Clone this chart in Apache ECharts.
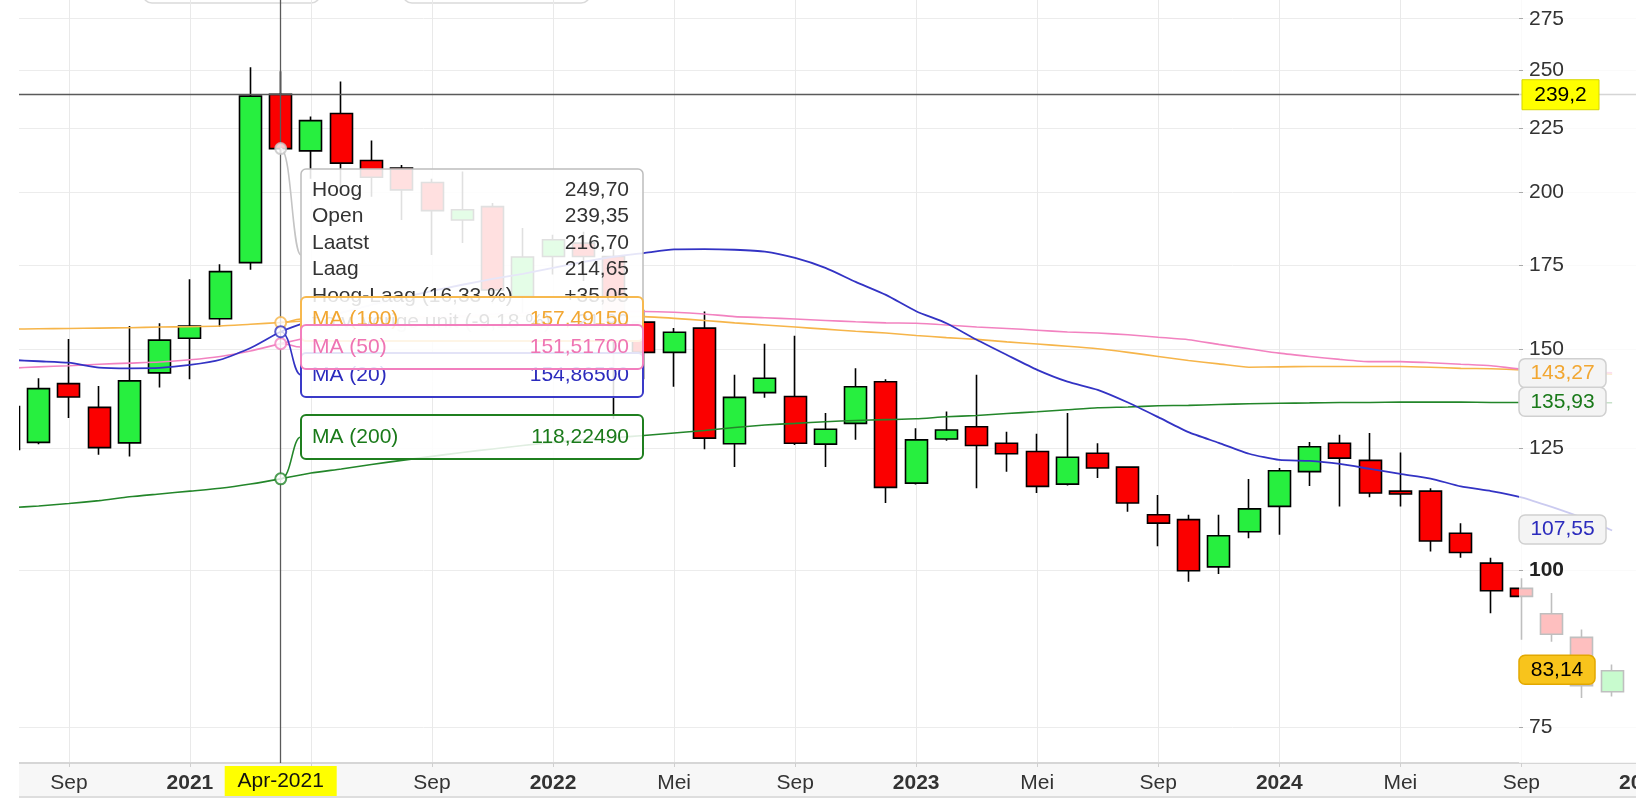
<!DOCTYPE html>
<html><head><meta charset="utf-8">
<script src="https://cdn.jsdelivr.net/npm/echarts@6/dist/echarts.min.js"></script>
<style>html,body{margin:0;padding:0;background:#fff;overflow:hidden}#c{width:1636px;height:804px}</style>
</head><body><div id="c"></div>
<script>
// ---------- data (monthly candles) ----------
const months = ['2020-07','2020-08','2020-09','2020-10','2020-11','2020-12','2021-01','2021-02','2021-03','2021-04','2021-05','2021-06','2021-07','2021-08','2021-09','2021-10','2021-11','2021-12','2022-01','2022-02','2022-03','2022-04','2022-05','2022-06','2022-07','2022-08','2022-09','2022-10','2022-11','2022-12','2023-01','2023-02','2023-03','2023-04','2023-05','2023-06','2023-07','2023-08','2023-09','2023-10','2023-11','2023-12','2024-01','2024-02','2024-03','2024-04','2024-05','2024-06','2024-07','2024-08','2024-09','2024-10','2024-11','2024-12'];
const open  = [135.0,126.4,140.8,134.8,126.3,143.6,153.0,158.6,175.8,239.35,215.8,231.1,212.0,209.1,203.6,190.1,194.8,165.2,177.8,182.2,177.8,157.6,149.1,155.9,126.1,138.5,137.5,126.0,130.9,141.3,117.3,127.2,130.1,126.2,124.3,117.1,123.9,120.8,110.7,109.7,100.6,107.3,112.4,119.8,126.2,122.3,115.6,115.6,107.0,101.3,96.7,92.3,88.4,80.0];
const close = [124.8,139.5,137.4,125.2,141.5,152.5,156.5,172.9,238.6,216.70,228.1,211.0,205.6,200.9,193.4,193.7,167.2,177.6,183.3,177.8,157.8,149.1,154.7,127.4,137.3,142.2,126.2,129.5,140.0,116.4,127.0,129.3,125.7,123.8,116.6,123.0,120.6,113.1,109.0,99.9,106.5,111.9,120.0,125.4,122.8,115.2,115.0,105.5,103.3,96.3,95.3,88.9,80.9,83.14];
const low   = [122.0,126.0,132.2,123.6,123.2,139.8,141.9,156.3,173.5,214.65,205.0,200.0,198.4,190.1,178.3,182.2,163.0,160.0,172.0,170.0,132.0,141.9,140.0,124.8,120.8,137.2,125.8,120.8,127.0,113.1,117.0,126.8,116.2,119.8,115.2,116.8,118.4,111.3,104.5,97.9,99.3,106.0,106.7,116.7,112.4,114.3,112.4,103.5,102.3,92.4,88.0,87.7,79.1,79.3];
const high  = [137.0,142.2,152.8,140.2,156.5,157.3,170.5,175.3,251.6,249.70,229.8,245.1,219.9,210.3,205.0,207.8,196.1,187.3,185.0,186.0,180.0,161.2,155.9,160.7,143.1,151.5,153.7,133.4,144.8,141.9,129.7,133.8,143.1,128.9,128.4,133.4,126.2,121.0,114.8,110.7,110.7,118.2,120.6,126.5,128.2,128.6,124.1,116.2,109.0,102.3,98.5,95.9,89.7,84.1];
const ma20  = [147.1,146.7,146.3,145.0,144.8,144.9,145.7,147.1,150.3,154.865,158.0,160.3,162.7,164.8,166.9,168.8,170.6,172.2,174.1,176.0,177.7,178.9,180.1,180.2,180.0,179.4,177.3,174.1,169.7,165.7,160.8,157.3,152.6,148.4,144.4,141.3,139.2,136.0,132.4,128.8,126.3,123.8,122.4,122.2,121.5,120.4,119.3,118.3,116.6,115.6,114.3,112.3,110.1,107.55];
const ma50  = [144.8,145.2,145.5,145.9,146.2,146.5,147.1,148.0,149.5,151.517,153.4,155.4,156.8,158.0,158.9,159.4,159.9,160.2,160.5,160.6,160.7,160.7,160.5,160.0,159.2,158.9,158.5,158.1,157.7,157.4,157.3,156.8,156.2,155.8,155.3,154.8,154.5,154.0,153.3,152.6,151.3,150.1,148.9,148.0,147.2,146.6,146.6,146.3,145.9,145.5,144.6,144.3,143.9,143.6];
const ma100 = [155.6,155.7,155.8,155.9,156.0,156.2,156.3,156.5,157.0,157.4915,158.1,158.6,158.9,159.0,159.1,159.2,159.2,159.3,159.3,159.3,159.3,159.2,158.7,158.1,157.4,156.8,156.2,155.6,155.0,154.5,153.8,153.2,152.7,152.0,151.4,150.8,150.1,149.1,148.0,146.9,146.0,145.1,145.2,145.3,145.3,145.3,145.3,145.1,144.8,144.7,144.4,144.0,143.6,143.27];
const ma200 = [112.1,112.5,113.0,113.6,114.4,115.0,115.6,116.2,117.1,118.2249,119.5,120.4,121.4,122.3,123.2,124.1,124.9,125.7,126.4,127.0,127.5,128.0,128.6,129.2,129.9,130.5,130.9,131.3,131.6,131.8,132.0,132.5,132.8,133.3,133.7,134.2,134.7,134.9,135.2,135.3,135.5,135.7,135.8,135.9,136.0,136.0,136.1,136.1,136.1,136.0,136.0,136.0,135.95,135.93];
const tickMonths = ['2020-09','2021-01','2021-05','2021-09','2022-01','2022-05','2022-09','2023-01','2023-05','2023-09','2024-01','2024-05','2024-09','2025-01'];
const tickLabels = ['Sep','2021','Mei','Sep','2022','Mei','Sep','2023','Mei','Sep','2024','Mei','Sep','2025'];
const yTicks = [75,100,125,150,175,200,225,250,275];
const crossMonth = '2021-04';
const crossPrice = 239.2;
const monthNames = ['Jan','Feb','Mrt','Apr','Mei','Jun','Jul','Aug','Sep','Okt','Nov','Dec'];

// ---------- helpers ----------
const FONT = '"Liberation Sans", Arial, Helvetica, sans-serif';
function monthIndex(s){const p=s.split('-').map(Number);return (p[0]-2020)*12+(p[1]-7);}
const fmt=(v,d)=>v.toFixed(d).replace('.',',');
const xs = months.map(monthIndex);
const tickX = tickMonths.map(monthIndex);
const ci = months.indexOf(crossMonth);
const COL = {up:'#27ef3f',down:'#fb0000',ma20:'#3333c4',ma50:'#f282c0',ma100:'#f6b54a',ma200:'#23862a',price:'#c4c4c4'};
const line=(arr)=>xs.map((x,i)=>[x,arr[i]]);

const chart = echarts.init(document.getElementById('c'), null, {renderer:'canvas'});
const yBase = {type:'log', min:70.2, max:284.6, position:'right', offset:-137};
const option = {
  animation:false,
  grid:{left:19,right:-20,top:0,bottom:41,containLabel:false,outerBoundsMode:'none'},
  xAxis:{type:'value',min:0.351,max:54.45,z:1,
    axisLine:{show:true,onZero:false,lineStyle:{color:'#d6d6d6',width:2}},
    axisTick:{show:true,length:4,customValues:tickX,lineStyle:{color:'#cfcfcf'}},
    axisLabel:{customValues:tickX,margin:10,fontSize:21,color:'#333',fontFamily:FONT,
      formatter:(v)=>{const t=tickLabels[tickX.indexOf(Math.round(v))]||'';return /^\d{4}$/.test(t)?'{y|'+t+'}':t;},
      rich:{y:{fontSize:21,fontWeight:'bold',color:'#333',fontFamily:FONT}}},
    splitLine:{show:true,lineStyle:{color:'#e9e9e9',width:1}}},
  yAxis:[
    Object.assign({},yBase,{z:1,axisLine:{show:false},axisTick:{show:false,customValues:yTicks},
      axisLabel:{show:false,customValues:yTicks},splitLine:{show:true,lineStyle:{color:'#ececec',width:1}}}),
    Object.assign({},yBase,{z:10,axisLine:{show:false},axisTick:{show:true,length:4,customValues:yTicks,lineStyle:{color:'#aaa'}},
      axisLabel:{customValues:yTicks,margin:10,fontSize:21,color:'#333',fontFamily:FONT,
        formatter:(v)=>Math.round(v)===100?'{b|100}':String(Math.round(v)),
        rich:{b:{fontSize:21,fontWeight:'bold',color:'#222',fontFamily:FONT}}},
      splitLine:{show:false}})
  ],
  series:[
    {type:'candlestick',name:'Koers',z:2,barWidth:22.5,silent:true,
      data:xs.map((x,i)=>[x,open[i],close[i],low[i],high[i]]),
      itemStyle:{color:COL.up,color0:COL.down,borderColor:'#000',borderColor0:'#000',borderWidth:1.6},
      markLine:{silent:true,symbol:['none','none'],animation:false,label:{show:false},
        lineStyle:{color:'#5a5a5a',width:1.3,type:'solid'},emphasis:{disabled:true},
        data:[{xAxis:xs[ci]},{yAxis:crossPrice}]}},
    {type:'line',name:'MA (200)',z:3,showSymbol:false,smooth:0.2,silent:true,data:line(ma200),lineStyle:{color:COL.ma200,width:1.6}},
    {type:'line',name:'MA (100)',z:3,showSymbol:false,smooth:0.2,silent:true,data:line(ma100),lineStyle:{color:COL.ma100,width:1.6}},
    {type:'line',name:'MA (50)',z:3,showSymbol:false,smooth:0.2,silent:true,data:line(ma50),lineStyle:{color:COL.ma50,width:1.6}},
    {type:'line',name:'MA (20)',z:3,showSymbol:false,smooth:0.2,silent:true,data:line(ma20),lineStyle:{color:COL.ma20,width:1.8}},
    {type:'scatter',name:'dots',z:8,silent:true,symbolSize:11,
      itemStyle:{color:'#fff',borderWidth:2},
      data:[
        {value:[xs[ci],close[ci]],itemStyle:{borderColor:COL.price}},
        {value:[xs[ci],ma100[ci]],itemStyle:{borderColor:COL.ma100}},
        {value:[xs[ci],ma50[ci]],itemStyle:{borderColor:COL.ma50}},
        {value:[xs[ci],ma20[ci]],itemStyle:{borderColor:COL.ma20}},
        {value:[xs[ci],ma200[ci]],itemStyle:{borderColor:COL.ma200}}
      ]}
  ]
};
chart.setOption(option);

// ---------- overlays: tooltip, labels ----------
const P=(x,y)=>chart.convertToPixel({xAxisIndex:0,yAxisIndex:0},[x,y]);
const g=[];
const T=(x,y,text,fill,align,z,z2,weight)=>({type:'text',x:x,y:y,z:z,z2:z2,silent:true,
  style:{text:text,fill:fill,font:(weight||'normal')+' 21px '+FONT,align:align,verticalAlign:'middle'}});
// clip the part of the first candle left of the plot
g.push({type:'rect',z:4,silent:true,shape:{x:-10,y:0,width:29,height:804},style:{fill:'#fff'}});
// toolbar remnants at top
g.push({type:'rect',z:0,silent:true,shape:{x:143,y:-30,width:177,height:33,r:9},style:{fill:'none',stroke:'#dadada',lineWidth:1.5}});
g.push({type:'rect',z:0,silent:true,shape:{x:403,y:-30,width:187,height:33,r:9},style:{fill:'none',stroke:'#dadada',lineWidth:1.5}});
// x-axis band
g.push({type:'rect',z:0,silent:true,shape:{x:19,y:764,width:1617,height:33},style:{fill:'#f7f7f7'}});
g.push({type:'rect',z:0,silent:true,shape:{x:19,y:796,width:1617,height:2},style:{fill:'#dedede'}});
// y label area veil
g.push({type:'rect',z:6,silent:true,shape:{x:1519,y:0,width:117,height:763},style:{fill:'rgba(255,255,255,0.75)'}});

// tooltip box
const BX=301, BW=342, TX=312, VX=629;
g.push({type:'rect',z:6,z2:0,silent:true,shape:{x:BX,y:169,width:BW,height:172,r:5},style:{fill:'rgba(255,255,255,0.88)',stroke:'#bdbdbd',lineWidth:1.5}});
const prevClose = close[ci-1];
const rows=[
  ['Hoog',fmt(high[ci],2)],
  ['Open',fmt(open[ci],2)],
  ['Laatst',fmt(close[ci],2)],
  ['Laag',fmt(low[ci],2)],
  ['Hoog-Laag ('+fmt((high[ci]-low[ci])/low[ci]*100,2)+' %)','+'+fmt(high[ci]-low[ci],2)],
  ['t.o.v. vorige unit ('+fmt((close[ci]-prevClose)/prevClose*100,2)+' %)',fmt(close[ci]-prevClose,2)]
];
rows.forEach((r,k)=>{const y=190+k*26.5;g.push(T(TX,y,r[0],'#333','left',6,1));g.push(T(VX,y,r[1],'#333','right',6,1));});

const maBoxes=[
  {name:'MA (20)',v:ma20[ci],top:353,stroke:'#3a3ac8',text:'#2b2bbd',z2:2},
  {name:'MA (100)',v:ma100[ci],top:297,stroke:'#f7b94f',text:'#f2a732',z2:4},
  {name:'MA (50)',v:ma50[ci],top:325,stroke:'#f27fbe',text:'#ef74b3',z2:6},
  {name:'MA (200)',v:ma200[ci],top:415,stroke:'#1f7f1f',text:'#1a7a1a',z2:8}
];
maBoxes.forEach(b=>{
  g.push({type:'rect',z:6,z2:b.z2,silent:true,shape:{x:BX,y:b.top,width:BW,height:44,r:5},style:{fill:'rgba(255,255,255,0.86)',stroke:b.stroke,lineWidth:2}});
  g.push(T(TX,b.top+22,b.name,b.text,'left',6,b.z2+1));
  g.push(T(VX,b.top+22,fmt(b.v,5),b.text,'right',6,b.z2+1));
});

// connectors from dots to boxes
const conns=[[close[ci],255,COL.price],[ma100[ci],319,COL.ma100],[ma50[ci],347,COL.ma50],[ma20[ci],375,COL.ma20],[ma200[ci],437,COL.ma200]];
conns.forEach(c=>{
  const p=P(xs[ci],c[0]);
  g.push({type:'bezierCurve',z:7,silent:true,shape:{x1:p[0],y1:p[1],x2:BX,y2:c[1],cpx1:p[0]+11,cpy1:p[1],cpx2:BX-9,cpy2:c[1]},
    style:{stroke:c[2],lineWidth:1.6,fill:'none'}});
});

// crosshair labels
const cp=P(xs[ci],crossPrice);
g.push({type:'rect',z:11,silent:true,shape:{x:1522,y:cp[1]-15,width:77,height:30},style:{fill:'#ffff00',stroke:'#d6d600',lineWidth:1}});
g.push(T(1560.5,cp[1],fmt(crossPrice,1),'#000','center',11,1));
const cmParts=crossMonth.split('-');
g.push({type:'rect',z:11,silent:true,shape:{x:cp[0]-56,y:766,width:112,height:30},style:{fill:'#ffff00'}});
g.push(T(cp[0],781,monthNames[+cmParts[1]-1]+'-'+cmParts[0],'#111','center',11,1));

// last-value labels on the right
const last=months.length-1;
const lastLabels=[
  {v:ma100[last],fill:'#f4f4f4',stroke:'#d0d0d0',text:'#f2a732',w:87},
  {v:ma200[last],fill:'#f4f4f4',stroke:'#d0d0d0',text:'#1a7a1a',w:87},
  {v:ma20[last],fill:'#f4f4f4',stroke:'#d0d0d0',text:'#2b2bbd',w:87},
  {v:close[last],fill:'#f8c41c',stroke:'#e2a800',text:'#000',w:76}
];
lastLabels.forEach((l,k)=>{
  const y=P(xs[last],l.v)[1]-1;
  g.push({type:'rect',z:11,z2:k*2,silent:true,shape:{x:1519,y:y-14.5,width:l.w,height:29,r:6},style:{fill:l.fill,stroke:l.stroke,lineWidth:1.5}});
  g.push(T(1519+l.w/2,y,fmt(l.v,2),l.text,'center',11,k*2+1));
});

chart.setOption({graphic:g});
</script>
</body></html>
